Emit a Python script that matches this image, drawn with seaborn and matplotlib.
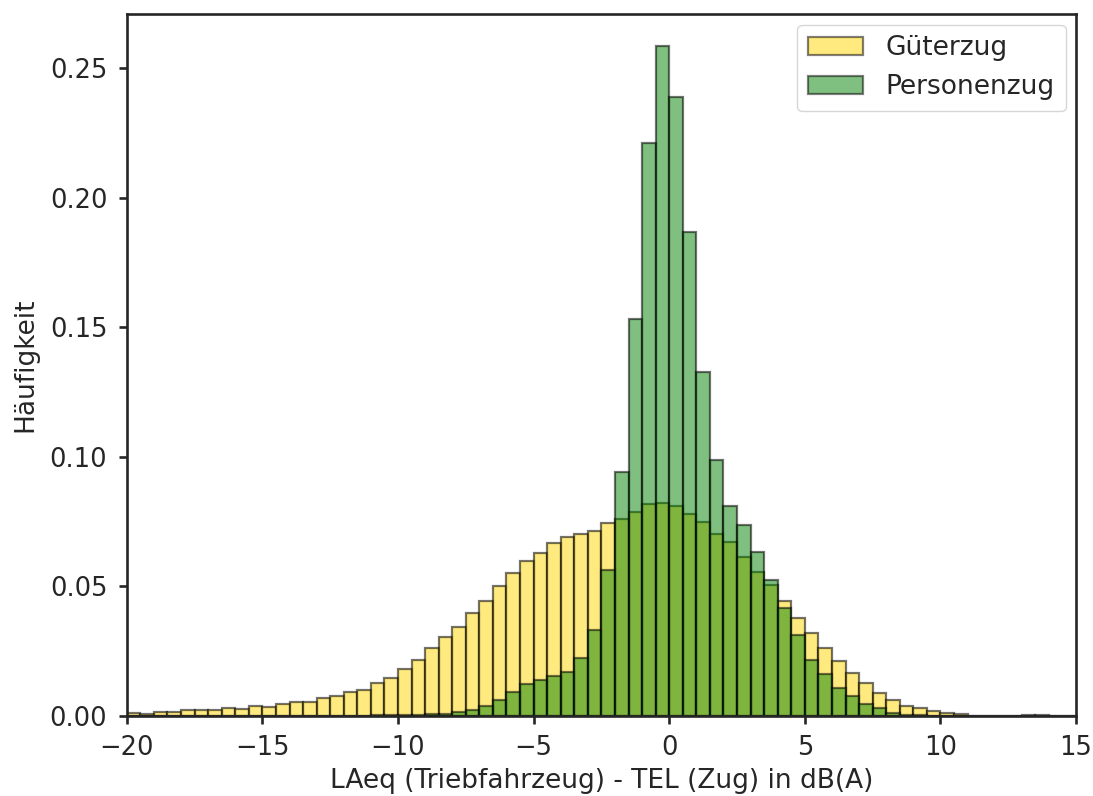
import numpy as np
import pandas as pd
import matplotlib
matplotlib.use("Agg")
import matplotlib.pyplot as plt
from matplotlib.patches import Patch
import seaborn as sns

# bin edges: -20 .. 15 in 0.5 steps (70 bins)
bin_edges = np.arange(-20, 15.001, 0.5)

gueterzug = [
    0.0010, 0.0009, 0.0017, 0.0014, 0.0023, 0.0022, 0.0024, 0.0030, 0.0028, 0.0039,
    0.0036, 0.0045, 0.0054, 0.0054, 0.0068, 0.0076, 0.0093, 0.0102, 0.0127, 0.0148,
    0.0181, 0.0216, 0.0264, 0.0305, 0.0345, 0.0397, 0.0445, 0.0502, 0.0553, 0.0600,
    0.0631, 0.0667, 0.0692, 0.0703, 0.0716, 0.0744, 0.0759, 0.0789, 0.0817, 0.0824,
    0.0811, 0.0780, 0.0750, 0.0703, 0.0672, 0.0615, 0.0557, 0.0506, 0.0445, 0.0378,
    0.0322, 0.0264, 0.0214, 0.0167, 0.0129, 0.0088, 0.0062, 0.0040, 0.0030, 0.0020,
    0.0013, 0.0009, 0.0, 0.0, 0.0, 0.0, 0.0003, 0.0003, 0.0, 0.0,
]

personenzug = [
    0.0, 0.0, 0.0, 0.0, 0.0, 0.0, 0.0, 0.0, 0.0, 0.0,
    0.0, 0.0, 0.0001, 0.0001, 0.0001, 0.0001, 0.0001, 0.0001, 0.0002, 0.0002,
    0.0003, 0.0004, 0.0006, 0.0008, 0.0017, 0.0023, 0.0039, 0.0062, 0.0091, 0.0125,
    0.0139, 0.0153, 0.0169, 0.0223, 0.0332, 0.0564, 0.0942, 0.1533, 0.2212, 0.2587,
    0.2391, 0.1869, 0.1328, 0.0988, 0.0812, 0.0737, 0.0633, 0.0525, 0.0418, 0.0311,
    0.0218, 0.0161, 0.0109, 0.0077, 0.0045, 0.0030, 0.0010, 0.0004, 0.0002, 0.0001,
    0.0, 0.0, 0.0, 0.0, 0.0, 0.0, 0.0, 0.0, 0.0, 0.0,
]

series_labels = ["Güterzug", "Personenzug"]
series_colors = ["gold", "green"]

x_label = "LAeq (Triebfahrzeug) - TEL (Zug) in dB(A)"
y_label = "Häufigkeit"

sns.set_theme(style="ticks")
plt.rcParams["font.family"] = ["DejaVu Sans"]
plt.rcParams.update({
    "axes.linewidth": 1.9,
    "xtick.major.width": 1.9,
    "ytick.major.width": 1.9,
    "xtick.major.size": 6,
    "ytick.major.size": 6,
    "xtick.major.pad": 8,
    "ytick.major.pad": 8,
    "xtick.labelsize": 18.5,
    "ytick.labelsize": 18.5,
    "axes.labelsize": 19,
    "legend.fontsize": 19,
})

fig = plt.figure(figsize=(10.93, 7.96), dpi=100)
ax = fig.add_axes([0.116, 0.1005, 0.8685, 0.8819])

edge = (0.0, 0.0, 0.0, 0.55)
centers = (bin_edges[:-1] + bin_edges[1:]) / 2
for vals, col in zip([gueterzug, personenzug], series_colors):
    df = pd.DataFrame({"center": centers, "value": vals})
    sns.histplot(data=df, x="center", weights="value", bins=list(bin_edges),
                 stat="count", color=col, alpha=0.5, edgecolor=edge,
                 linewidth=1.6, ax=ax)

ax.set_xlim(-20, 15)
ax.set_ylim(0, 0.271)
ax.set_xticks([-20, -15, -10, -5, 0, 5, 10, 15])
ax.set_yticks([0.0, 0.05, 0.10, 0.15, 0.20, 0.25])
ax.set_yticklabels(["0.00", "0.05", "0.10", "0.15", "0.20", "0.25"])
ax.set_xlabel(x_label, labelpad=4.5)
ax.set_ylabel(y_label, labelpad=8)

handles = [Patch(facecolor=c, edgecolor=edge, alpha=0.5, linewidth=1.6, label=l)
           for c, l in zip(series_colors, series_labels)]
ax.legend(handles=handles, loc="upper right", frameon=True, handlelength=2.1,
          handletextpad=0.85, borderpad=0.4, labelspacing=0.5, borderaxespad=0.4)

fig.savefig("out.png", dpi=100)
